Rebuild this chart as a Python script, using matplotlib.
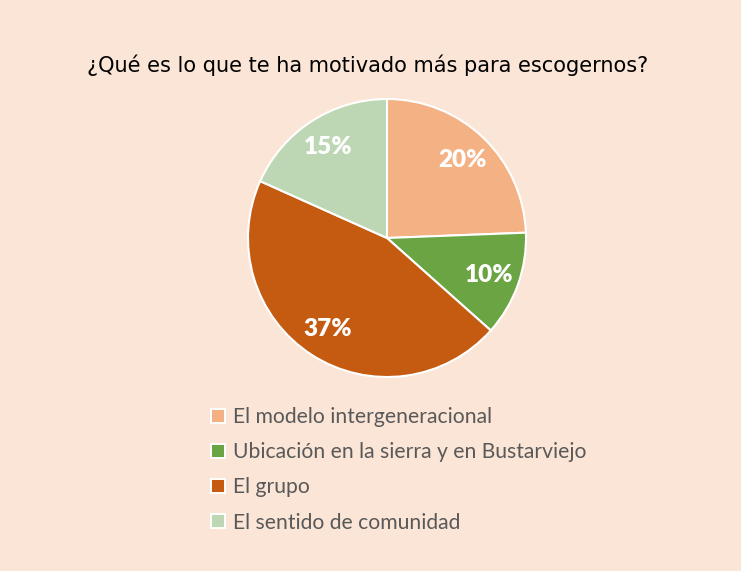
import matplotlib.pyplot as plt
from matplotlib.lines import Line2D

categorias = ['El modelo intergeneracional',
              'Ubicación en la sierra y en Bustarviejo',
              'El grupo',
              'El sentido de comunidad']
valores = [20, 10, 37, 15]
colores = ['#F4B183', '#6AA443', '#C55A11', '#BDD7B4']
titulo = '¿Qué es lo que te ha motivado más para escogernos?'

fondo = '#FBE5D6'
W, H = 741, 571

fig = plt.figure(figsize=(W / 100, H / 100), dpi=100, facecolor=fondo)
ax = fig.add_axes([0, 0, 1, 1])
ax.set_facecolor(fondo)
ax.set_xlim(0, W)
ax.set_ylim(0, H)
ax.set_aspect('equal')
ax.axis('off')

total = sum(valores)
wedges, texts, autotexts = ax.pie(
    valores, colors=colores, center=(387, H - 238), radius=139,
    startangle=90, counterclock=False,
    autopct=lambda p: '%d%%' % round(p * total / 100),
    pctdistance=0.78,
    wedgeprops=dict(edgecolor='white', linewidth=1.5),
    textprops=dict(color='white', fontsize=17.5, fontweight='heavy', family='Lato'))
ax.set_xlim(0, W)
ax.set_ylim(0, H)

ax.text(368, H - 65, titulo, ha='center', va='center', fontsize=15,
        color='black', family='DejaVu Sans')

handles = [Line2D([0], [0], marker='s', linestyle='', markersize=10,
                  markerfacecolor=c, markeredgecolor='white', markeredgewidth=1.4)
           for c in colores]
leg = ax.legend(handles, categorias, loc='upper left',
                bbox_to_anchor=(192 / W, 1 - 388 / H), frameon=False,
                handlelength=0.7, handletextpad=0.35, labelspacing=0.72,
                prop=dict(family='Lato', size=15.2))
for t in leg.get_texts():
    t.set_color('#595959')

fig.savefig('out.png', dpi=100, facecolor=fondo)
